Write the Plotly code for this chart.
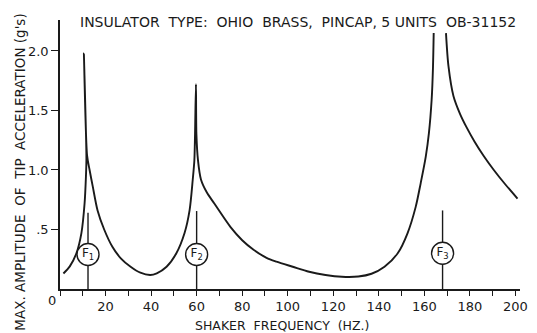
import plotly.graph_objects as go

# Response curve (frequency in Hz, max amplitude of tip acceleration in g's)
freq = [1.5, 4.3, 7.2, 9.4, 10.8, 11.4, 11.6, 10.5, 11.9, 13.0, 14.4, 16.5, 19.4, 23.0, 26.7,
        31.0, 35.3, 39.6, 42.5, 46.8, 51.1, 54.7, 56.9, 58.3, 59.0, 59.3, 59.7, 59.9, 60.6,
        61.9, 64.5, 67.7, 74.9, 80.0, 85.0, 90.7, 95.0, 102.2, 109.4, 116.6, 123.8, 131.0,
        136.8, 142.5, 148.3, 152.6, 156.2, 158.4, 160.6, 162.0, 163.2, 163.8, 164.1, None,
        169.5, 170.6, 172.8, 175.7, 178.5, 182.0, 186.0, 190.5, 195.5, 200.9]
accel = [0.13, 0.19, 0.30, 0.47, 0.72, 0.95, 1.10, 1.98, 1.12, 1.00, 0.86, 0.66, 0.50, 0.355, 0.258,
         0.187, 0.137, 0.118, 0.132, 0.187, 0.30, 0.47, 0.66, 0.92, 1.08, 1.30, 1.72, 1.30, 1.08,
         0.92, 0.81, 0.72, 0.52, 0.41, 0.33, 0.262, 0.23, 0.187, 0.145, 0.118, 0.103, 0.105,
         0.128, 0.187, 0.30, 0.468, 0.69, 0.89, 1.11, 1.31, 1.59, 1.87, 2.15, None,
         2.15, 1.87, 1.62, 1.47, 1.36, 1.24, 1.12, 1.00, 0.88, 0.76]

# Natural frequency markers
marker_freqs = [12.3, 60.0, 168.0]
marker_labels = ["F<sub>1</sub>", "F<sub>2</sub>", "F<sub>3</sub>"]
marker_top = [0.64, 0.655, 0.66]
marker_circle_level = [0.29, 0.29, 0.30]

# Tick labels
x_tickvals = [20, 40, 60, 80, 100, 120, 140, 160, 180, 200]
x_ticktext = ["20", "40", "60", "80", "100", "120", "140", "160", "180", "200"]
y_tickvals = [0.5, 1.0, 1.5, 2.0]
y_ticktext = [".5", "1.0", "1.5", "2.0"]

INK = "#1a1a1a"
FONT = "DejaVu Sans"

fig = go.Figure()

# vertical marker lines
vx, vy = [], []
for f, top in zip(marker_freqs, marker_top):
    vx += [f, f, None]
    vy += [top, 0, None]
fig.add_trace(go.Scatter(x=vx, y=vy, mode="lines",
                         line=dict(color=INK, width=1.4), hoverinfo="skip"))

fig.add_trace(go.Scatter(x=freq, y=accel, mode="lines",
                         line=dict(color=INK, width=1.9, shape="spline", smoothing=0.8),
                         connectgaps=False))

fig.add_trace(go.Scatter(x=marker_freqs, y=marker_circle_level, mode="markers+text",
                         text=marker_labels, textposition="middle center",
                         textfont=dict(family=FONT, size=12, color=INK),
                         marker=dict(symbol="circle", size=22, color="white",
                                     line=dict(color=INK, width=1.4))))

fig.update_layout(
    width=537, height=333,
    margin=dict(l=60, r=9, t=20, b=44),
    paper_bgcolor="white", plot_bgcolor="white",
    showlegend=False,
    font=dict(family=FONT, color=INK, size=12),
    xaxis=dict(range=[0, 202], showgrid=False, zeroline=False,
               showline=True, linecolor=INK, linewidth=1.6,
               tickvals=x_tickvals, ticktext=x_ticktext,
               ticks="outside", ticklen=5, tickcolor=INK, tickwidth=1.4,
               minor=dict(dtick=10, tick0=0, ticks="outside", ticklen=5,
                          tickcolor=INK, tickwidth=1.4),
               tickfont=dict(family=FONT, size=13, color=INK)),
    yaxis=dict(range=[0, 2.26], showgrid=False, zeroline=False,
               showline=True, linecolor=INK, linewidth=1.6,
               tickvals=y_tickvals, ticktext=y_ticktext,
               ticks="outside", ticklen=7, tickcolor=INK, tickwidth=1.4,
               tickfont=dict(family=FONT, size=13, color=INK)),
    annotations=[
        dict(text="INSULATOR  TYPE:  OHIO  BRASS,  PINCAP, 5 UNITS  OB-31152",
             xref="paper", yref="paper", x=0.518, y=0.993, showarrow=False,
             xanchor="center", yanchor="middle",
             font=dict(family=FONT, size=14, color=INK)),
        dict(text="MAX. AMPLITUDE  OF  TIP  ACCELERATION (g's)",
             xref="paper", yref="paper", x=-0.0876, y=0.435, showarrow=False,
             textangle=-90, xanchor="center", yanchor="middle",
             font=dict(family=FONT, size=13.5, color=INK)),
        dict(text="SHAKER  FREQUENCY  (HZ.)",
             xref="paper", yref="paper", x=0.483, y=-0.134, showarrow=False,
             xanchor="center", yanchor="middle",
             font=dict(family=FONT, size=12.5, color=INK)),
        dict(text="0", xref="paper", yref="paper", x=-0.017, y=-0.041,
             showarrow=False, xanchor="center", yanchor="middle",
             font=dict(family=FONT, size=13, color=INK)),
    ],
)

fig.write_html("out.html")
